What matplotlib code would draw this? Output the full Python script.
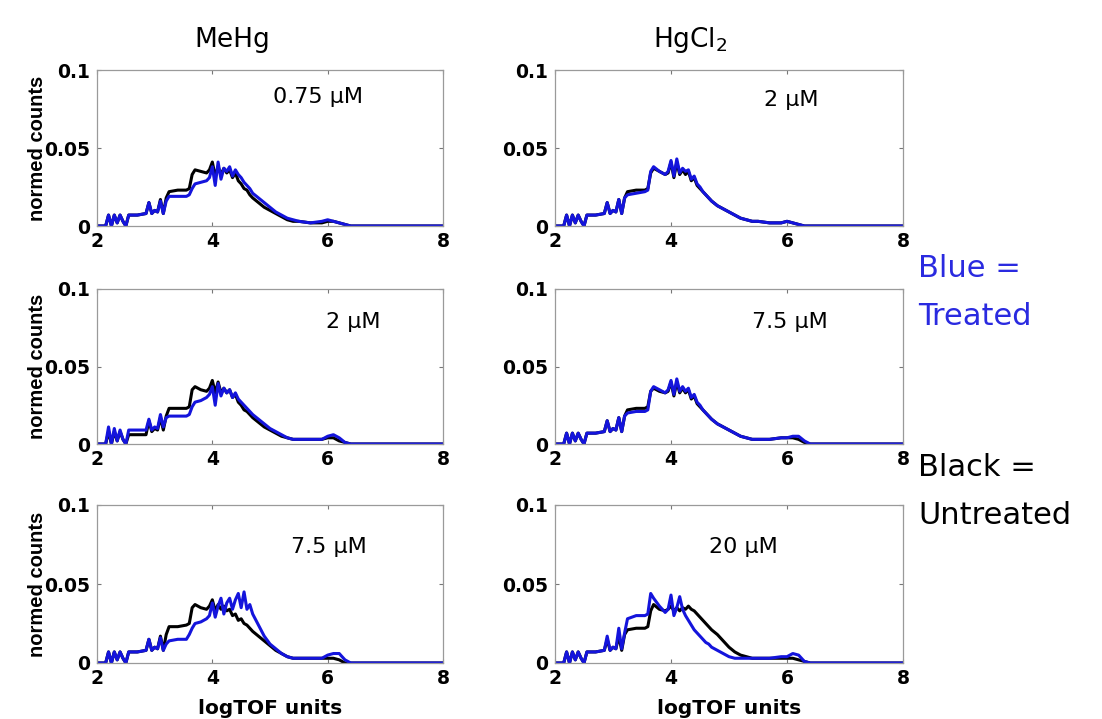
import matplotlib
matplotlib.use("Agg")
import matplotlib.pyplot as plt

plt.rcParams['font.family'] = ['DejaVu Sans']

# bin centres (logTOF units)
x_bins = [2.00, 2.15, 2.20, 2.25, 2.30, 2.35, 2.40, 2.45, 2.50, 2.55,
          2.70, 2.85, 2.90, 2.95, 3.00, 3.05, 3.10, 3.15, 3.20, 3.25,
          3.40, 3.55, 3.60, 3.65, 3.70, 3.80, 3.90, 3.95, 4.00, 4.05,
          4.10, 4.15, 4.20, 4.25, 4.30, 4.35, 4.40, 4.45, 4.50, 4.55,
          4.60, 4.65, 4.70, 4.80, 4.90, 5.00, 5.10, 5.20, 5.30, 5.40,
          5.50, 5.70, 5.90, 6.00, 6.10, 6.20, 6.30, 6.40, 6.50, 7.00,
          8.00]

# MeHg 0.75 uM
mehg_075_untreated = [0, 0, 0.007, 0, 0.007, 0.002, 0.007, 0.003, 0, 0.007,
                      0.007, 0.008, 0.015, 0.008, 0.010, 0.009, 0.017, 0.008, 0.018, 0.022,
                      0.023, 0.023, 0.024, 0.033, 0.036, 0.035, 0.034, 0.036, 0.041, 0.032,
                      0.038, 0.033, 0.037, 0.034, 0.036, 0.031, 0.034, 0.029, 0.027, 0.024,
                      0.023, 0.020, 0.018, 0.015, 0.012, 0.010, 0.008, 0.006, 0.004, 0.003,
                      0.003, 0.002, 0.002, 0.003, 0.003, 0.002, 0.001, 0, 0, 0,
                      0]
mehg_075_treated = [0, 0, 0.007, 0, 0.007, 0.002, 0.007, 0.003, 0, 0.007,
                    0.007, 0.008, 0.015, 0.008, 0.010, 0.009, 0.016, 0.008, 0.016, 0.019,
                    0.019, 0.019, 0.020, 0.024, 0.027, 0.028, 0.029, 0.031, 0.038, 0.026,
                    0.041, 0.030, 0.037, 0.035, 0.038, 0.032, 0.036, 0.033, 0.031, 0.028,
                    0.026, 0.024, 0.021, 0.018, 0.015, 0.012, 0.009, 0.007, 0.005, 0.004,
                    0.003, 0.002, 0.003, 0.004, 0.003, 0.002, 0.001, 0, 0, 0,
                    0]

# HgCl2 2 uM
hgcl2_2_untreated = [0, 0, 0.007, 0, 0.007, 0.002, 0.007, 0.003, 0, 0.007,
                     0.007, 0.008, 0.015, 0.008, 0.010, 0.009, 0.017, 0.008, 0.018, 0.022,
                     0.023, 0.023, 0.024, 0.034, 0.037, 0.035, 0.033, 0.034, 0.041, 0.031,
                     0.041, 0.033, 0.036, 0.033, 0.035, 0.029, 0.031, 0.026, 0.024, 0.022,
                     0.020, 0.018, 0.016, 0.013, 0.011, 0.009, 0.007, 0.005, 0.004, 0.003,
                     0.003, 0.002, 0.002, 0.003, 0.002, 0.001, 0, 0, 0, 0,
                     0]
hgcl2_2_treated = [0, 0, 0.007, 0, 0.007, 0.002, 0.007, 0.003, 0, 0.007,
                   0.007, 0.008, 0.015, 0.008, 0.010, 0.009, 0.017, 0.008, 0.018, 0.020,
                   0.021, 0.022, 0.023, 0.035, 0.038, 0.035, 0.033, 0.035, 0.042, 0.032,
                   0.043, 0.034, 0.037, 0.035, 0.036, 0.030, 0.032, 0.027, 0.025, 0.022,
                   0.020, 0.018, 0.016, 0.013, 0.011, 0.009, 0.007, 0.005, 0.004, 0.003,
                   0.003, 0.002, 0.002, 0.003, 0.002, 0.001, 0, 0, 0, 0,
                   0]

# MeHg 2 uM
mehg_2_untreated = [0, 0, 0.008, 0, 0.008, 0.002, 0.008, 0.003, 0, 0.006,
                    0.006, 0.006, 0.015, 0.008, 0.010, 0.009, 0.017, 0.009, 0.018, 0.023,
                    0.023, 0.023, 0.024, 0.035, 0.037, 0.035, 0.034, 0.036, 0.041, 0.033,
                    0.040, 0.033, 0.036, 0.033, 0.035, 0.030, 0.032, 0.027, 0.025, 0.022,
                    0.021, 0.019, 0.017, 0.014, 0.011, 0.009, 0.007, 0.005, 0.004, 0.003,
                    0.003, 0.003, 0.003, 0.004, 0.004, 0.002, 0.001, 0, 0, 0,
                    0]
mehg_2_treated = [0, 0, 0.011, 0, 0.010, 0.002, 0.009, 0.003, 0, 0.009,
                  0.009, 0.009, 0.016, 0.009, 0.011, 0.010, 0.019, 0.011, 0.017, 0.018,
                  0.018, 0.018, 0.019, 0.024, 0.027, 0.028, 0.030, 0.032, 0.037, 0.025,
                  0.039, 0.031, 0.036, 0.033, 0.035, 0.030, 0.033, 0.029, 0.027, 0.025,
                  0.023, 0.021, 0.019, 0.016, 0.013, 0.010, 0.008, 0.006, 0.004, 0.003,
                  0.003, 0.003, 0.003, 0.005, 0.006, 0.004, 0.001, 0, 0, 0,
                  0]

# HgCl2 7.5 uM
hgcl2_75_untreated = [0, 0, 0.007, 0, 0.007, 0.002, 0.007, 0.003, 0, 0.007,
                      0.007, 0.008, 0.015, 0.008, 0.010, 0.009, 0.017, 0.008, 0.018, 0.022,
                      0.023, 0.023, 0.024, 0.034, 0.036, 0.034, 0.033, 0.034, 0.040, 0.031,
                      0.040, 0.033, 0.036, 0.033, 0.035, 0.029, 0.031, 0.026, 0.024, 0.022,
                      0.020, 0.018, 0.016, 0.013, 0.011, 0.009, 0.007, 0.005, 0.004, 0.003,
                      0.003, 0.003, 0.004, 0.004, 0.004, 0.003, 0.001, 0, 0, 0,
                      0]
hgcl2_75_treated = [0, 0, 0.007, 0, 0.007, 0.002, 0.007, 0.003, 0, 0.007,
                    0.007, 0.008, 0.015, 0.008, 0.010, 0.009, 0.017, 0.008, 0.018, 0.020,
                    0.021, 0.021, 0.022, 0.034, 0.037, 0.035, 0.033, 0.035, 0.041, 0.032,
                    0.042, 0.034, 0.037, 0.034, 0.036, 0.030, 0.032, 0.027, 0.025, 0.022,
                    0.020, 0.018, 0.016, 0.013, 0.011, 0.009, 0.007, 0.005, 0.004, 0.003,
                    0.003, 0.003, 0.004, 0.004, 0.005, 0.005, 0.002, 0, 0, 0,
                    0]

# MeHg 7.5 uM
mehg_75_untreated = [0, 0, 0.007, 0, 0.007, 0.002, 0.007, 0.003, 0, 0.007,
                     0.007, 0.008, 0.015, 0.008, 0.010, 0.009, 0.017, 0.008, 0.018, 0.023,
                     0.023, 0.024, 0.025, 0.035, 0.037, 0.035, 0.034, 0.036, 0.040, 0.033,
                     0.037, 0.034, 0.036, 0.033, 0.034, 0.030, 0.031, 0.027, 0.028, 0.025,
                     0.024, 0.022, 0.020, 0.017, 0.014, 0.011, 0.008, 0.006, 0.004, 0.003,
                     0.003, 0.003, 0.003, 0.003, 0.003, 0.002, 0, 0, 0, 0,
                     0]
mehg_75_treated = [0, 0, 0.007, 0, 0.007, 0.002, 0.007, 0.003, 0, 0.007,
                   0.007, 0.008, 0.015, 0.008, 0.010, 0.009, 0.016, 0.008, 0.012, 0.014,
                   0.015, 0.015, 0.018, 0.022, 0.025, 0.026, 0.028, 0.030, 0.038, 0.029,
                   0.036, 0.041, 0.031, 0.038, 0.041, 0.034, 0.040, 0.044, 0.035, 0.045,
                   0.034, 0.037, 0.031, 0.024, 0.017, 0.012, 0.009, 0.006, 0.004, 0.003,
                   0.003, 0.003, 0.003, 0.005, 0.006, 0.006, 0.002, 0, 0, 0,
                   0]

# HgCl2 20 uM
hgcl2_20_untreated = [0, 0, 0.007, 0, 0.007, 0.002, 0.007, 0.003, 0, 0.007,
                      0.007, 0.008, 0.015, 0.008, 0.010, 0.009, 0.017, 0.008, 0.018, 0.021,
                      0.022, 0.022, 0.023, 0.033, 0.037, 0.034, 0.033, 0.034, 0.036, 0.033,
                      0.035, 0.033, 0.035, 0.034, 0.036, 0.034, 0.033, 0.031, 0.029, 0.027,
                      0.025, 0.023, 0.021, 0.018, 0.014, 0.010, 0.007, 0.005, 0.004, 0.003,
                      0.003, 0.003, 0.003, 0.003, 0.003, 0.002, 0.001, 0, 0, 0,
                      0]
hgcl2_20_treated = [0, 0, 0.007, 0, 0.007, 0.002, 0.007, 0.003, 0, 0.007,
                    0.007, 0.008, 0.017, 0.008, 0.010, 0.009, 0.022, 0.009, 0.019, 0.028,
                    0.030, 0.030, 0.031, 0.044, 0.041, 0.036, 0.032, 0.034, 0.043, 0.030,
                    0.035, 0.042, 0.034, 0.030, 0.027, 0.024, 0.021, 0.019, 0.017, 0.015,
                    0.013, 0.012, 0.010, 0.008, 0.006, 0.004, 0.003, 0.003, 0.003, 0.003,
                    0.003, 0.003, 0.004, 0.004, 0.006, 0.005, 0.001, 0, 0, 0,
                    0]

panel_labels = ["0.75 µM", "2 µM", "2 µM", "7.5 µM", "7.5 µM", "20 µM"]
column_titles = ["MeHg", "HgCl$_2$"]
x_ticks = [2, 4, 6, 8]
y_ticks = [0, 0.05, 0.1]
y_ticklabels = ["0", "0.05", "0.1"]

series = [
    (mehg_075_untreated, mehg_075_treated),
    (hgcl2_2_untreated, hgcl2_2_treated),
    (mehg_2_untreated, mehg_2_treated),
    (hgcl2_75_untreated, hgcl2_75_treated),
    (mehg_75_untreated, mehg_75_treated),
    (hgcl2_20_untreated, hgcl2_20_treated),
]

W, H = 1102, 719
fig = plt.figure(figsize=(W / 100, H / 100), dpi=100)

col_px = [(97, 443), (555, 903)]
row_px = [(70, 226), (289, 444), (505, 663)]
label_pos = [(0.64, 0.83), (0.68, 0.81), (0.74, 0.79), (0.675, 0.79), (0.67, 0.736), (0.54, 0.736)]

blue = '#1414dc'
for i, (unt, trt) in enumerate(series):
    r, c = divmod(i, 2)
    x0, x1 = col_px[c]
    t, b = row_px[r]
    ax = fig.add_axes([x0 / W, 1 - b / H, (x1 - x0) / W, (b - t) / H])
    ax.plot(x_bins, unt, color='black', lw=2.2, solid_joinstyle='round')
    ax.plot(x_bins, trt, color=blue, lw=2.2, solid_joinstyle='round')
    ax.set_xlim(2, 8)
    ax.set_ylim(0, 0.1)
    ax.set_xticks(x_ticks)
    ax.set_yticks(y_ticks)
    ax.set_yticklabels(y_ticklabels)
    ax.tick_params(direction='in', length=3, width=0.8, top=True, right=True,
                   color='#777777', labelsize=13.5)
    ax.tick_params(axis='x', pad=4)
    ax.tick_params(axis='y', pad=5)
    for lab in ax.get_xticklabels() + ax.get_yticklabels():
        lab.set_fontweight('bold')
    for sp in ax.spines.values():
        sp.set_color('#9a9a9a')
        sp.set_linewidth(0.9)
    lx, ly = label_pos[i]
    ax.text(lx, ly, panel_labels[i], transform=ax.transAxes, ha='center', va='center',
            fontsize=16)
    if c == 0:
        ax.set_ylabel("normed counts", fontsize=14.5, fontweight='bold',
                      family='Liberation Sans')
        ax.yaxis.set_label_coords((47 - x0) / (x1 - x0), 0.5)
    if r == 2:
        ax.set_xlabel("logTOF units", fontsize=14.5, fontweight='bold')
        ax.xaxis.set_label_coords(0.5, (b - 699) / (b - t))

fig.text(232 / W, 1 - 40 / H, column_titles[0], ha='center', va='center', fontsize=19)
fig.text(690 / W, 1 - 40 / H, column_titles[1], ha='center', va='center', fontsize=19)

fig.text(918 / W, 1 - 268 / H, "Blue =", color='#2a2ae0', ha='left', va='center', fontsize=22)
fig.text(918 / W, 1 - 316 / H, "Treated", color='#2a2ae0', ha='left', va='center', fontsize=22)
fig.text(918 / W, 1 - 468 / H, "Black =", color='black', ha='left', va='center', fontsize=22)
fig.text(918 / W, 1 - 515 / H, "Untreated", color='black', ha='left', va='center', fontsize=22)

fig.savefig("out.png", dpi=100, facecolor='white')
